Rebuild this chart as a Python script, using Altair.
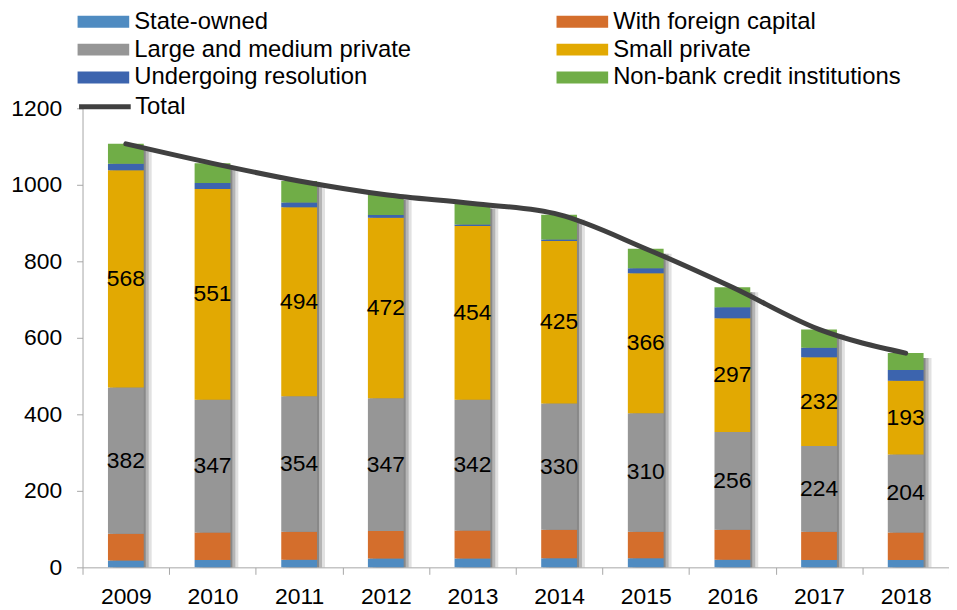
import altair as alt
import pandas as pd

years = ["2009", "2010", "2011", "2012", "2013", "2014", "2015", "2016", "2017", "2018"]
categories = ["State-owned", "With  foreign capital", "Large and medium private",
              "Small private", "Undergoing resolution", "Non-bank credit institutions"]
colors = ["#4F8BC1", "#D46E2C", "#969696", "#E2A902", "#3C64AE", "#70AD47"]

state_owned = [18, 19, 20, 23, 23, 24, 24, 20, 19, 19]
foreign_capital = [70, 72, 73, 72, 73, 74, 69, 78, 74, 72]
large_medium = [382, 347, 354, 347, 342, 330, 310, 256, 224, 204]
small_private = [568, 551, 494, 472, 454, 425, 366, 297, 232, 193]
resolution = [17, 16, 13, 7, 4, 4, 13, 29, 25, 28]
non_bank = [52, 51, 56, 53, 55, 65, 51, 52, 48, 44]
total = [1107, 1056, 1010, 974, 951, 922, 833, 732, 622, 560]

series = [state_owned, foreign_capital, large_medium, small_private, resolution, non_bank]
rows = []
for i, yr in enumerate(years):
    for k, (cat, vals) in enumerate(zip(categories, series)):
        rows.append({"year": yr, "category": cat, "value": vals[i], "order": k})
df = pd.DataFrame(rows)
tot_df = pd.DataFrame({"year": years, "total": total, "series": ["Total"] * len(years)})

FONT = "Liberation Sans"
AX = "#A6A6A6"

x = alt.X("year:N", title=None,
          scale=alt.Scale(paddingInner=0, paddingOuter=0),
          axis=alt.Axis(labelAngle=0, tickBand="extent", labelFontSize=23, labelFont=FONT,
                        labelColor="black", domainColor=AX, tickColor=AX, tickSize=7,
                        labelPadding=11, grid=False))
yscale = alt.Scale(domain=[0, 1200], nice=False)
yaxis = alt.Axis(values=[0, 200, 400, 600, 800, 1000, 1200], format="d", labelFontSize=23,
                 labelFont=FONT, labelColor="black", domainColor=AX, tickColor=AX, tickSize=6,
                 labelPadding=15, grid=False, title=None)

shadows = []
for off, op in [(2, 0.35), (5, 0.25), (8, 0.15)]:
    shadows.append(
        alt.Chart(tot_df).mark_bar(size=36, xOffset=off, yOffset=5, color="#333333",
                                   opacity=op, clip=True)
        .encode(x=x, y=alt.Y("total:Q", scale=yscale, axis=yaxis))
    )

bars = alt.Chart(df).mark_bar(size=36).encode(
    x=x,
    y=alt.Y("value:Q", stack="zero", scale=yscale, axis=yaxis),
    fill=alt.Fill("category:N", scale=alt.Scale(domain=categories, range=colors),
                  legend=alt.Legend(title=None, orient="none", legendX=9, legendY=-99,
                                    direction="horizontal", columns=2, columnPadding=146,
                                    rowPadding=4,
                                    symbolType="M-4.33,-1H4.33V1H-4.33Z", symbolSize=144,
                                    symbolStrokeWidth=0, labelFontSize=24, labelFont=FONT,
                                    labelColor="black", labelOffset=19, padding=0,
                                    labelLimit=400)),
    order=alt.Order("order:Q"),
)

labels = (
    alt.Chart(df)
    .transform_stack(stack="value", groupby=["year"], as_=["y0", "y1"],
                     sort=[alt.SortField("order", order="ascending")])
    .transform_filter("datum.order == 2 || datum.order == 3")
    .transform_calculate(mid="(datum.y0 + datum.y1) / 2")
    .mark_text(fontSize=23, font=FONT, color="black")
    .encode(x=x, y=alt.Y("mid:Q", scale=yscale, axis=yaxis), text="value:Q")
)

line = alt.Chart(tot_df).mark_line(interpolate="monotone", strokeWidth=5, strokeCap="round").encode(
    x=x,
    y=alt.Y("total:Q", scale=yscale, axis=yaxis),
    stroke=alt.Stroke("series:N", scale=alt.Scale(range=["#404040"]),
                      legend=alt.Legend(title=None, orient="none", legendX=-6, legendY=-30,
                                        symbolType="stroke", symbolSize=2704,
                                        symbolStrokeWidth=5, labelFontSize=24, labelFont=FONT,
                                        labelColor="black", labelOffset=2, padding=0)),
)

chart = alt.layer(*shadows, bars, labels, line).properties(
    width=872, height=462,
    autosize=alt.AutoSizeParams(type="none"),
    padding={"left": 75, "top": 99, "right": 0, "bottom": 40},
).configure_view(stroke=None).resolve_scale(fill="independent", stroke="independent")

chart.save("out.html", embed_options={"renderer": "svg", "actions": False})
